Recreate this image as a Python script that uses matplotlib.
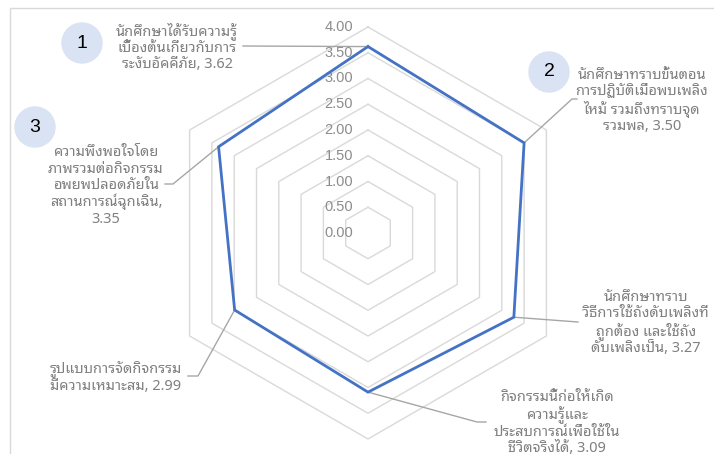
import numpy as np
import matplotlib
matplotlib.use("Agg")
import matplotlib.pyplot as plt
from matplotlib import font_manager
from matplotlib.patches import Circle, Rectangle

# ---- data ----
categories = [
    "นักศึกษาได้รับความรู้\nเบื้องต้นเกี่ยวกับการ\nระงับอัคคีภัย",
    "นักศึกษาทราบขั้นตอน\nการปฏิบัติเมื่อพบเพลิง\nไหม้ รวมถึงทราบจุด\nรวมพล",
    "นักศึกษาทราบ\nวิธีการใช้ถังดับเพลิงที่\nถูกต้อง และใช้ถัง\nดับเพลิงเป็น",
    "กิจกรรมนี้ก่อให้เกิด\nความรู้และ\nประสบการณ์เพื่อใช้ใน\nชีวิตจริงได้",
    "รูปแบบการจัดกิจกรรม\nมีความเหมาะสม",
    "ความพึงพอใจโดย\nภาพรวมต่อกิจกรรม\nอพยพปลอดภัยใน\nสถานการณ์ฉุกเฉิน",
]
scores = [3.62, 3.50, 3.27, 3.09, 2.99, 3.35]
tick_values = [0.0, 0.5, 1.0, 1.5, 2.0, 2.5, 3.0, 3.5, 4.0]
badges = ["1", "2", "3"]

# ---- pick an installed font with Thai glyphs ----
installed = {fe.name for fe in font_manager.fontManager.ttflist}
thai_family = [f for f in ["Noto Sans Thai Looped", "Noto Sans Thai",
                           "IBM Plex Sans Thai Looped", "Sarabun", "Anuphan"]
               if f in installed][:1] + ["DejaVu Sans"]

W, H = 714, 454
fig = plt.figure(figsize=(W / 100, H / 100), dpi=100)
ax = fig.add_axes([0, 0, 1, 1])
ax.set_axis_off()

cx, cy, unit = 368.0, 233.0, 51.5
ax.set_xlim(-cx / unit, (W - cx) / unit)
ax.set_ylim(-(H - cy) / unit, cy / unit)


def px(x, y):
    """pixel position (from top-left) -> data coords"""
    return (x - cx) / unit, (cy - y) / unit


n = len(scores)
angles = np.pi / 2 - np.arange(n) * 2 * np.pi / n

# frame
x0, y0 = px(10, 8)
x1, y1 = px(W + 5, H + 5)
ax.add_patch(Rectangle((x0, y1), x1 - x0, y0 - y1, fill=False,
                       ec="#d9d9d9", lw=1.0))

# hexagonal grid
for r in tick_values[1:]:
    gx = np.append(r * np.cos(angles), r * np.cos(angles[0]))
    gy = np.append(r * np.sin(angles), r * np.sin(angles[0]))
    ax.plot(gx, gy, color="#d9d9d9", lw=1.0, zorder=1)

for r in tick_values:
    ax.text(px(353, 0)[0], r, f"{r:.2f}", ha="right", va="center",
            fontsize=10.5, color="#8c8c8c", family="Liberation Sans", zorder=2)

# data polygon
sx = np.array(scores) * np.cos(angles)
sy = np.array(scores) * np.sin(angles)
ax.plot(np.append(sx, sx[0]), np.append(sy, sy[0]), color="#4472c4",
        lw=2.0, zorder=3, solid_joinstyle="miter")

# leader lines and labels
label_text_pos = [(177, 47), (642, 101), (646, 323), (557, 423), (116, 378), (106, 186)]
leader_pts = [
    [(243, 46)],
    [(577, 99), (572, 99)],
    [(578, 322)],
    [(486, 422), (477, 422)],
    [(188, 376), (198, 376)],
    [(165, 184), (173, 184)],
]
for i in range(n):
    pts = [px(*p) for p in leader_pts[i]] + [(sx[i], sy[i])]
    ax.plot([p[0] for p in pts], [p[1] for p in pts], color="#a6a6a6",
            lw=1.0, zorder=2)
    sep = ",\n" if i == 5 else ", "
    text = f"{categories[i]}{sep}{scores[i]:.2f}"
    ax.text(*px(*label_text_pos[i]), text, ha="center", va="center",
            fontsize=10.5, color="#808080", family=thai_family,
            linespacing=1.1, zorder=4)

# numbered badges
badge_pos = [(82, 43), (549, 72), (35, 127)]
for b, (bx, by) in zip(badges, badge_pos):
    ax.add_patch(Circle(px(bx, by), 20 / unit, color="#dae3f3", zorder=4))
    ax.text(*px(bx, by), b, ha="center", va="center", fontsize=14,
            color="black", family="Liberation Sans", zorder=5)

fig.savefig("out.png", dpi=100)
